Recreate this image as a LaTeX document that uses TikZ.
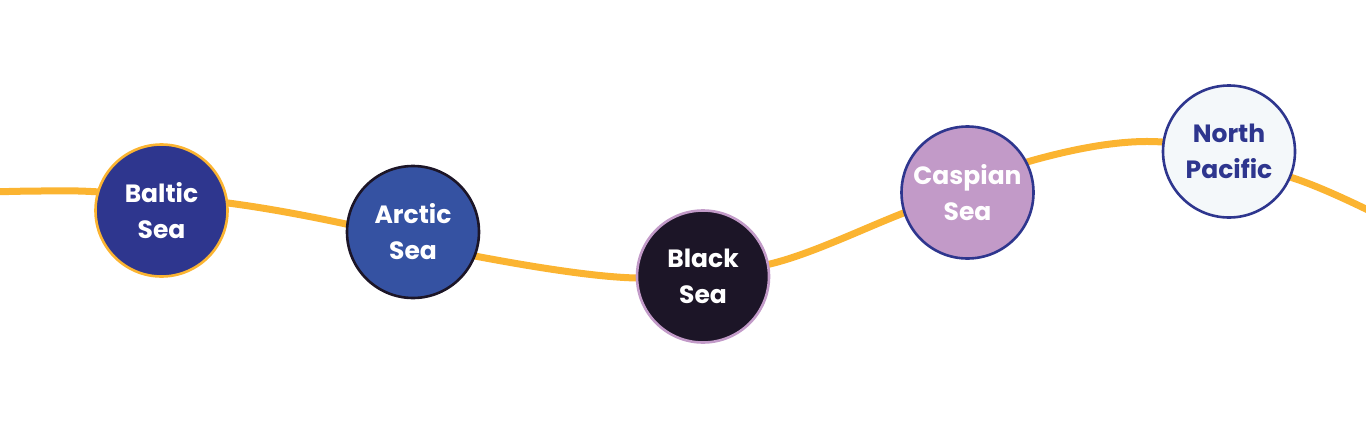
\documentclass[tikz,border=0pt]{standalone}
\usepackage{fontspec}
\setmainfont{Poppins}
\definecolor{gold}{HTML}{FBB431}
\definecolor{indigo}{HTML}{2E368E}
\definecolor{blue}{HTML}{3552A2}
\definecolor{ink}{HTML}{1C1527}
\definecolor{lilac}{HTML}{C29AC8}
\definecolor{paper}{HTML}{F4F8FA}
\begin{document}
\begin{tikzpicture}[x=1pt,y=-1pt,
  sea/.style={circle,minimum size=132pt,inner sep=0pt,line width=2.6pt,align=center,
    font=\fontsize{25}{36}\selectfont\bfseries},
  route/.style={gold,line width=7pt}]
\useasboundingbox (0,0) rectangle (1366,434);
\draw[route] plot[smooth,tension=0.55] coordinates {(-10,192) (40,191) (100,192) (228,203) (346,224) (480,257) (636,278) (770,264) (901,214) (1034,160) (1162,142) (1296,179) (1376,214)};
\node[sea,fill=indigo,draw=gold,text=white] (baltic) at (161.5,210.5) {Baltic\\Sea};
\node[sea,fill=blue,draw=ink,text=white] (arctic) at (413,232) {Arctic\\Sea};
\node[sea,fill=ink,draw=lilac,text=white] (black) at (703,276.5) {Black\\Sea};
\node[sea,fill=lilac,draw=indigo,text=white] (caspian) at (967.5,192.5) {Caspian\\Sea};
\node[sea,fill=paper,draw=indigo,text=indigo] (pacific) at (1229,151.5) {North\\Pacific};
\end{tikzpicture}
\end{document}
